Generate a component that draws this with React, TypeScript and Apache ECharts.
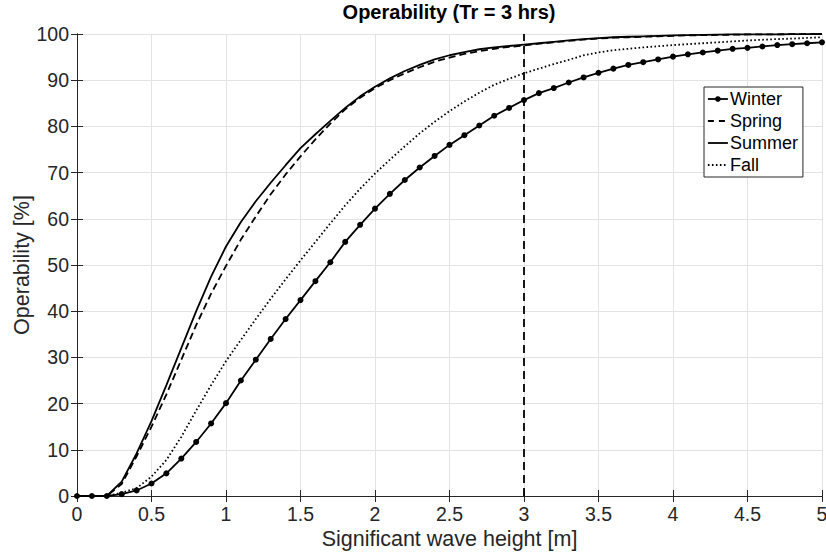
import React, { useEffect, useRef } from "react";
import * as echarts from "echarts";

const hs = [
  0, 0.1, 0.2, 0.3, 0.4, 0.5, 0.6, 0.7, 0.8, 0.9,
  1.0, 1.1, 1.2, 1.3, 1.4, 1.5, 1.6, 1.7, 1.8, 1.9,
  2.0, 2.1, 2.2, 2.3, 2.4, 2.5, 2.6, 2.7, 2.8, 2.9,
  3.0, 3.1, 3.2, 3.3, 3.4, 3.5, 3.6, 3.7, 3.8, 3.9,
  4.0, 4.1, 4.2, 4.3, 4.4, 4.5, 4.6, 4.7, 4.8, 4.9,
  5.0,
];

const winter = [
  0, 0, 0, 0.4, 1.2, 2.7, 4.9, 8.1, 11.7, 15.7,
  20.1, 25.0, 29.5, 34.0, 38.3, 42.4, 46.5, 50.6, 55.0, 58.7,
  62.2, 65.4, 68.4, 71.1, 73.6, 76.0, 78.1, 80.2, 82.3, 84.0,
  85.7, 87.2, 88.3, 89.5, 90.6, 91.6, 92.5, 93.3, 93.9, 94.5,
  95.1, 95.6, 96.0, 96.4, 96.8, 97.0, 97.3, 97.6, 97.8, 98.0,
  98.2,
];

const spring = [
  0, 0, 0, 2.6, 8.6, 15.0, 22.0, 29.5, 37.0, 43.8,
  49.8, 55.5, 60.5, 65.3, 69.6, 73.5, 77.2, 80.6, 83.7, 86.2,
  88.3, 90.0, 91.5, 92.8, 94.0, 94.9, 95.7, 96.3, 96.8, 97.2,
  97.5, 97.9, 98.2, 98.5, 98.8, 99.0, 99.2, 99.3, 99.4, 99.5,
  99.6, 99.7, 99.75, 99.8, 99.85, 99.9, 99.92, 99.94, 99.96, 99.98,
  100,
];

const summer = [
  0, 0, 0, 3.1, 9.2, 16.2, 24.0, 32.0, 40.0, 47.5,
  54.0, 59.3, 63.8, 67.8, 71.6, 75.3, 78.3, 81.2, 84.0, 86.5,
  88.6, 90.4, 92.0, 93.3, 94.5, 95.4, 96.1, 96.7, 97.1, 97.4,
  97.7, 98.0, 98.3, 98.6, 98.9, 99.1, 99.3, 99.4, 99.5, 99.6,
  99.7, 99.75, 99.8, 99.85, 99.9, 99.9, 99.92, 99.94, 99.96, 99.98,
  100,
];

const fall = [
  0, 0, 0, 0.7, 1.7, 4.2, 7.8, 12.8, 18.5, 24.0,
  29.2, 33.8, 38.3, 42.7, 46.9, 51.0, 55.0, 59.0, 62.9, 66.5,
  69.8, 72.8, 75.7, 78.5, 81.0, 83.3, 85.4, 87.3, 89.0, 90.3,
  91.5, 92.5, 93.5, 94.4, 95.4, 96.0, 96.5, 96.8, 97.1, 97.35,
  97.6, 97.8, 98.0, 98.2, 98.4, 98.6, 98.75, 98.9, 99.0, 99.15,
  99.3,
];

const cutHs = [3, 3];
const cutOp = [0, 100];

const seriesNames = ["Winter", "Spring", "Summer", "Fall"];
const titleText = "Operability (Tr = 3 hrs)";
const xName = "Significant wave height [m]";
const yName = "Operability [%]";

const FONT = "'Liberation Sans', Arial, Helvetica, sans-serif";
const INK = "#262626";

const DASH: number[] = [7, 4];
const DOT: number[] = [1.6, 2.4];
const CUT_DASH: number[] = [8, 5];

const pairs = (xs: number[], ys: number[]) => xs.map((x, i) => [x, ys[i]]);

export default function App() {
  const ref = useRef<HTMLDivElement>(null);
  useEffect(() => {
    if (!ref.current) return;
    const chart = echarts.init(ref.current, undefined, { renderer: "svg" });
    const tickAxisCommon = {
      axisLine: { show: true, lineStyle: { color: INK, width: 1 } },
      axisTick: { show: true, inside: true, length: 6, lineStyle: { color: INK } },
    };
    const hidden = { opacity: 0, color: "rgba(0,0,0,0)", borderWidth: 0 };
    chart.setOption({
      animation: false,
      backgroundColor: "#ffffff",
      textStyle: { fontFamily: FONT },
      title: {
        text: titleText,
        left: 449,
        top: 2,
        padding: 0,
        textAlign: "center",
        textStyle: { fontFamily: FONT, fontSize: 20, fontWeight: "bold", color: "#000" },
      },
      grid: {
        left: 77,
        right: 4,
        top: 34,
        bottom: 60,
        containLabel: false,
        outerBoundsMode: "none",
      },
      legend: {
        data: [
          { name: seriesNames[0], lineStyle: { type: "solid", width: 1.8, color: "#000" } },
          { name: seriesNames[1], itemStyle: hidden, lineStyle: { type: [6, 5], width: 1.8, color: "#000" } },
          { name: seriesNames[2], itemStyle: hidden, lineStyle: { type: "solid", width: 1.8, color: "#000" } },
          { name: seriesNames[3], itemStyle: hidden, lineStyle: { type: [1.6, 2.4], width: 1.8, color: "#000" } },
        ],
        orient: "vertical",
        left: 704,
        top: 87,
        padding: [3, 5, 3, 3],
        itemGap: 4,
        itemWidth: 20,
        itemHeight: 7,
        borderColor: INK,
        borderWidth: 1,
        backgroundColor: "#ffffff",
        textStyle: { fontFamily: FONT, fontSize: 18, color: "#000", padding: [0, 0, 0, -3] },
      },
      xAxis: [
        {
          type: "value",
          min: 0,
          max: 5,
          interval: 0.5,
          position: "bottom",
          name: xName,
          nameLocation: "middle",
          nameGap: 32,
          nameMoveOverlap: false,
          nameTextStyle: { fontFamily: FONT, fontSize: 21.5, color: INK },
          ...tickAxisCommon,
          axisLabel: { show: true, margin: 8, fontSize: 19.5, color: INK, fontFamily: FONT },
          splitLine: { show: true, lineStyle: { color: "#e3e3e3", width: 1 } },
        },
        {
          type: "value",
          min: 0,
          max: 5,
          interval: 0.5,
          position: "top",
          ...tickAxisCommon,
          axisLabel: { show: false },
          splitLine: { show: false },
        },
      ],
      yAxis: [
        {
          type: "value",
          min: 0,
          max: 100,
          interval: 10,
          position: "left",
          name: yName,
          nameLocation: "middle",
          nameGap: 44,
          nameMoveOverlap: false,
          nameTextStyle: { fontFamily: FONT, fontSize: 21.5, color: INK },
          ...tickAxisCommon,
          axisLabel: { show: true, margin: 8, fontSize: 19.5, color: INK, fontFamily: FONT },
          splitLine: { show: true, lineStyle: { color: "#e3e3e3", width: 1 } },
        },
        {
          type: "value",
          min: 0,
          max: 100,
          interval: 10,
          position: "right",
          ...tickAxisCommon,
          axisLabel: { show: false },
          splitLine: { show: false },
        },
      ],
      series: [
        {
          name: "Winter",
          type: "line",
          data: pairs(hs, winter),
          symbol: "circle",
          symbolSize: 6,
          showSymbol: true,
          itemStyle: { color: "#000" },
          lineStyle: { color: "#000", width: 1.8, type: "solid" },
          z: 5,
        },
        {
          name: "Spring",
          type: "line",
          data: pairs(hs, spring),
          symbol: "none",
          itemStyle: { color: "#000" },
          lineStyle: { color: "#000", width: 1.8, type: DASH },
        },
        {
          name: "Summer",
          type: "line",
          data: pairs(hs, summer),
          symbol: "none",
          itemStyle: { color: "#000" },
          lineStyle: { color: "#000", width: 1.8, type: "solid" },
        },
        {
          name: "Fall",
          type: "line",
          data: pairs(hs, fall),
          symbol: "none",
          itemStyle: { color: "#000" },
          lineStyle: { color: "#000", width: 1.8, type: DOT },
        },
        {
          name: "cut",
          type: "line",
          data: pairs(cutHs, cutOp),
          symbol: "none",
          itemStyle: { color: "#000" },
          lineStyle: { color: "#000", width: 1.8, type: CUT_DASH },
          z: 4,
        },
      ],
    });
    return () => chart.dispose();
  }, []);
  return (
    <div
      ref={ref}
      style={{ position: "absolute", left: 0, top: 0, width: 826, height: 556 }}
    />
  );
}
